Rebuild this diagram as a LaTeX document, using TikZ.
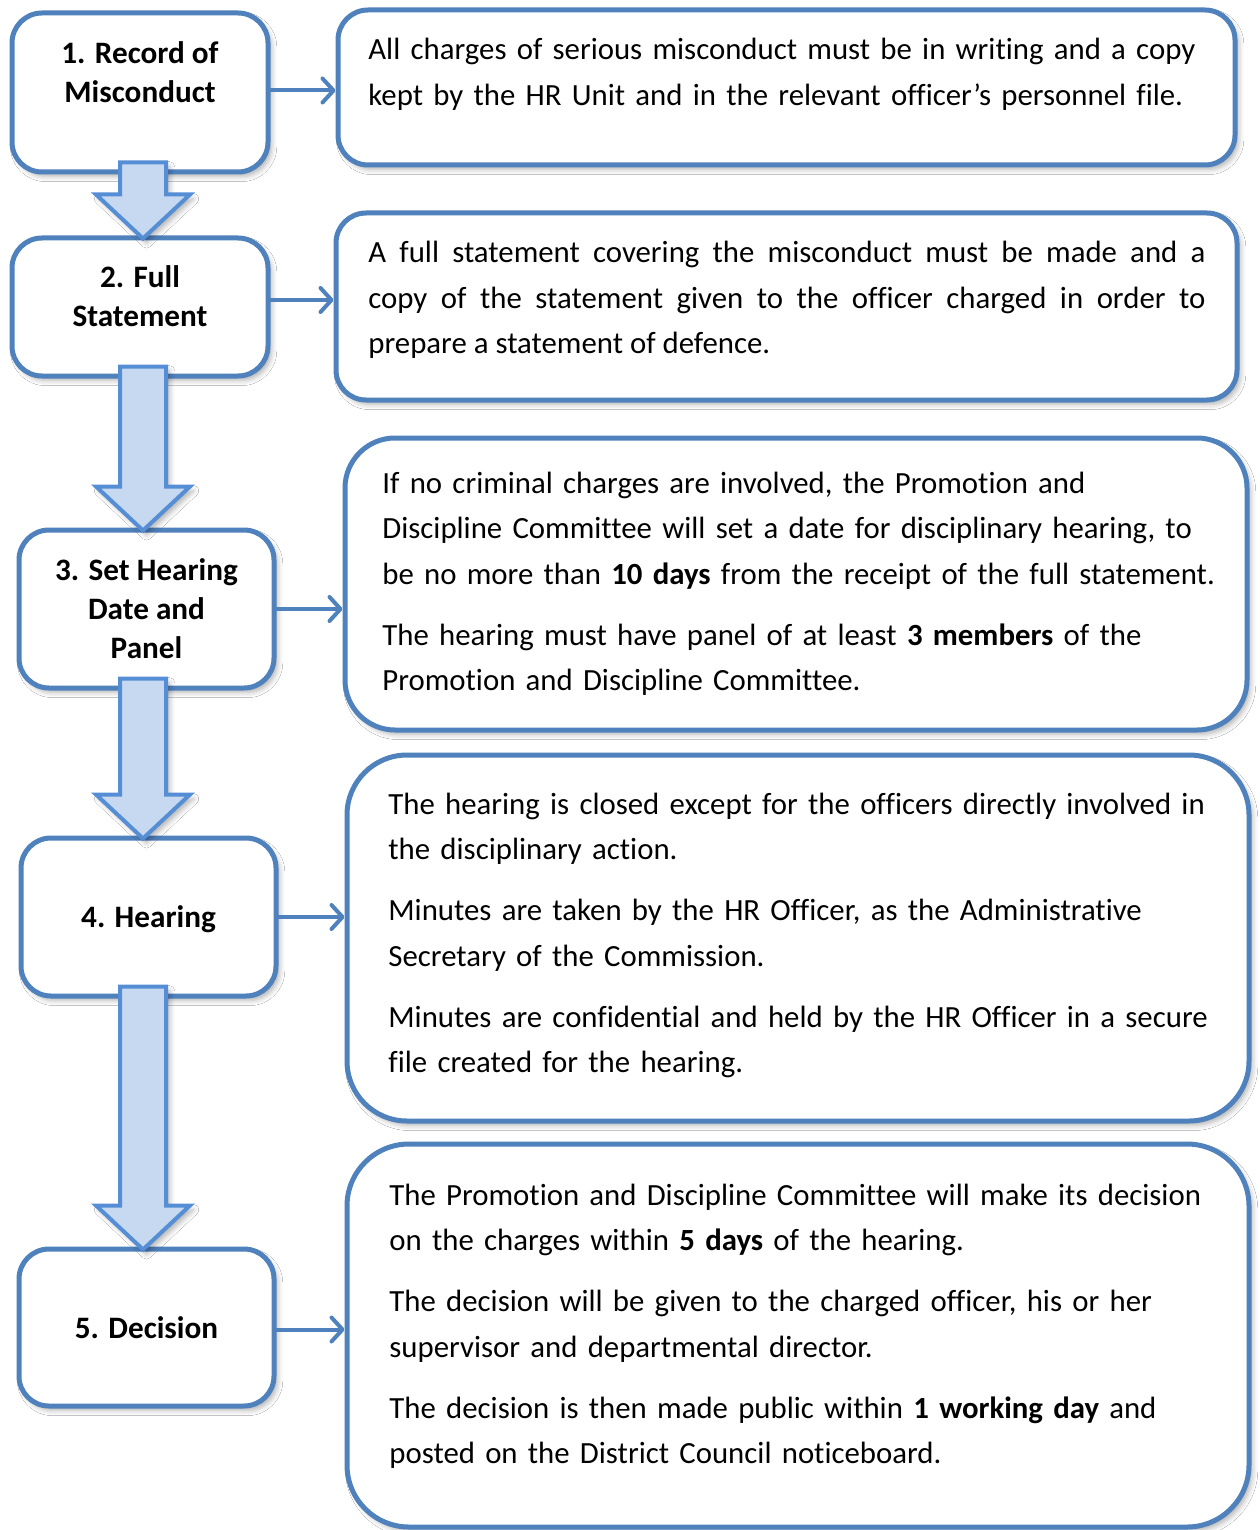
\documentclass[tikz,border=0pt]{standalone}
\usepackage{fontspec}
\setmainfont{Carlito}[Ligatures=NoCommon]
\usetikzlibrary{arrows.meta, calc, shadows.blur}

\definecolor{boxblue}{RGB}{79,129,189}
\definecolor{arrowfill}{RGB}{198,217,241}
\definecolor{arrowline}{RGB}{85,142,213}

\tikzset{
  softshadow/.style={blur shadow={shadow xshift=1.8pt, shadow yshift=-2.2pt, shadow blur radius=2.6pt, shadow opacity=30}},
  stepbox/.style={draw=boxblue, line width=2.5pt, fill=white, rounded corners=15pt,
    align=center, inner sep=0pt, font=\bfseries\fontsize{15.6}{19.5}\selectfont, softshadow},
  infobox/.style={draw=boxblue, line width=2.5pt, fill=white, inner sep=0pt, softshadow},
  infotext/.style={anchor=base west, inner sep=0pt, align=left, text width=440pt,
    font=\fontsize{15.4}{22.75}\selectfont},
  linkarrow/.style={draw=boxblue, line width=2pt, line cap=round,
    -{Straight Barb[length=5.5pt, width=12pt, line cap=round, line join=round]}},
  bigarrow/.style={draw=arrowline, fill=arrowfill, line width=2pt, softshadow},
}

\begin{document}
\begin{tikzpicture}[x=0.5pt, y=-0.5pt]
\useasboundingbox (0,0) rectangle (1259,1530);
\fill[white] (0,0) rectangle (1259,1530);

% ========== steps on the left ==========
\node[stepbox, minimum width=128pt, minimum height=79.5pt, text depth=20pt] (record) at (140,92.5) {1. Record of\\Misconduct};
\node[stepbox, minimum width=128pt, minimum height=69pt, text depth=10.5pt] (statement) at (140,307) {2. Full\\Statement};
\node[stepbox, minimum width=127.5pt, minimum height=79pt] (panel) at (146.5,609) {3. Set Hearing\\Date and\\Panel};
\node[stepbox, minimum width=127.5pt, minimum height=79pt, text depth=0pt] (hearing) at (148.5,917) {4. Hearing};
\node[stepbox, minimum width=127.5pt, minimum height=78.5pt] (decision) at (146.5,1327.5) {5. Decision};

% ========== detail boxes on the right ==========
\node[infobox, rounded corners=15pt, minimum width=448.5pt, minimum height=77.5pt] (recinfo) at (786.5,87.5) {};
\node[infobox, rounded corners=15pt, minimum width=450.5pt, minimum height=93.5pt] (stateinfo) at (786.5,306.5) {};
\node[infobox, rounded corners=25pt, minimum width=451pt, minimum height=146pt] (panelinfo) at (796,584) {};
\node[infobox, rounded corners=30pt, minimum width=451pt, minimum height=183pt] (hearinfo) at (798,938) {};
\node[infobox, rounded corners=31pt, minimum width=451pt, minimum height=191.5pt] (decinfo) at (798,1335.5) {};

% texts
\node[infotext] (rectext) at (368,60) {All charges of serious misconduct must be in writing and a copy\\
  kept by the HR Unit and in the relevant officer’s personnel file.};
\node[infotext, align=justify, text width=418.5pt] (statetext) at (368,263) {A full statement covering the misconduct must be made and a\linebreak
  copy of the statement given to the officer charged in order to\linebreak
  prepare a statement of defence.};
\node[infotext] (paneltext) at (382,493) {If no criminal charges are involved, the Promotion and\\
  Discipline Committee will set a date for disciplinary hearing, to\\
  be no more than \textbf{10 days} from the receipt of the full statement.\\[7.75pt]
  The hearing must have panel of at least \textbf{3 members} of the\\
  Promotion and Discipline Committee.};
\node[infotext] (heartext) at (388,814) {The hearing is closed except for the officers directly involved in\\
  the disciplinary action.\\[7.75pt]
  Minutes are taken by the HR Officer, as the Administrative\\
  Secretary of the Commission.\\[7.75pt]
  Minutes are confidential and held by the HR Officer in a secure\\
  file created for the hearing.};
\node[infotext] (dectext) at (389,1205) {The Promotion and Discipline Committee will make its decision\\
  on the charges within \textbf{5 days} of the hearing.\\[7.75pt]
  The decision will be given to the charged officer, his or her\\
  supervisor and departmental director.\\[7.75pt]
  The decision is then made public within \textbf{1 working day} and\\
  posted on the District Council noticeboard.};

% ========== links to the details ==========
\draw[linkarrow] ([yshift=1pt]record.east) -- ([yshift=1pt]record.east -| recinfo.west);
\draw[linkarrow] ([yshift=3.5pt]statement.east) -- ([yshift=3.5pt]statement.east -| stateinfo.west);
\draw[linkarrow] (panel.east) -- (panel.east -| panelinfo.west);
\draw[linkarrow] (hearing.east) -- (hearing.east -| hearinfo.west);
\draw[linkarrow] ([yshift=-1pt]decision.east) -- ([yshift=-1pt]decision.east -| decinfo.west);

% ========== block arrows between steps ==========
\def\arrowx{71.5pt}
\foreach \from/\to in {record/statement, statement/panel, panel/hearing, hearing/decision} {
  \draw[bigarrow] let \p1=(\from.south), \p2=(\to.north) in
    (\arrowx-11.5pt,\y1+6pt) -- (\arrowx+11.5pt,\y1+6pt) -- (\arrowx+11.5pt,\y2+20.5pt)
    -- (\arrowx+23.5pt,\y2+20.5pt) -- (\arrowx,\y2-1.5pt) -- (\arrowx-23.5pt,\y2+20.5pt)
    -- (\arrowx-11.5pt,\y2+20.5pt) -- cycle;
}

\end{tikzpicture}
\end{document}
